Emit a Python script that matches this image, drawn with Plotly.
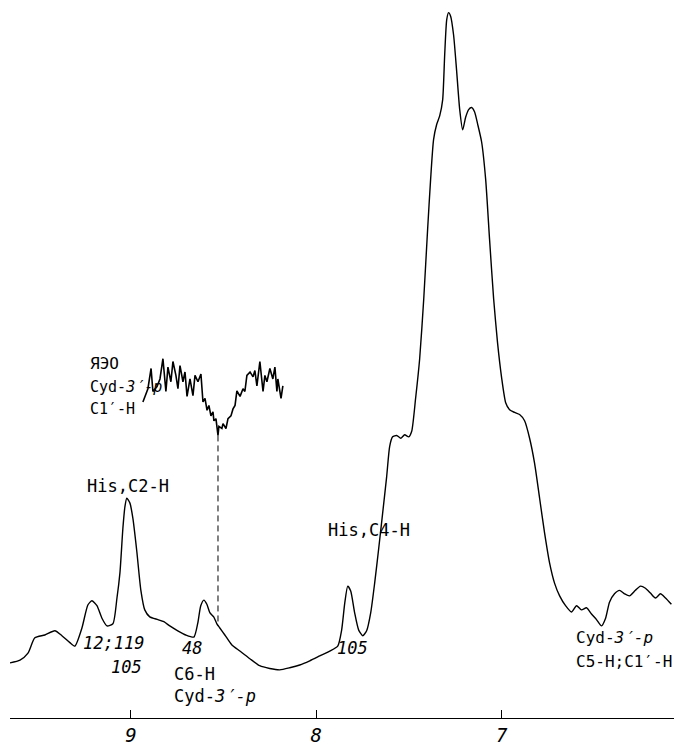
import plotly.graph_objects as go

# Main NMR spectrum (chemical shift, ppm ; intensity, arbitrary units)
ppm = [9.652, 9.598, 9.555, 9.518, 9.464, 9.410, 9.372, 9.329, 9.302, 9.264,
       9.232, 9.210, 9.183, 9.156, 9.129, 9.097, 9.075, 9.059, 9.043, 9.032,
       9.022, 9.005, 8.989, 8.968, 8.946, 8.925, 8.898, 8.854, 8.822, 8.790,
       8.747, 8.704, 8.660, 8.639, 8.623, 8.606, 8.590, 8.574, 8.553, 8.536,
       8.520, 8.493, 8.456, 8.412, 8.358, 8.305, 8.251, 8.197, 8.143, 8.089,
       8.035, 7.981, 7.927, 7.884, 7.863, 7.846, 7.830, 7.814, 7.793, 7.771,
       7.749, 7.728, 7.706, 7.685, 7.663, 7.642, 7.620, 7.604, 7.588, 7.566,
       7.544, 7.523, 7.501, 7.485, 7.464, 7.442, 7.420, 7.399, 7.383, 7.367,
       7.350, 7.334, 7.318, 7.307, 7.296, 7.286, 7.275, 7.259, 7.243, 7.226,
       7.210, 7.194, 7.178, 7.162, 7.146, 7.129, 7.108, 7.086, 7.065, 7.043,
       7.022, 7.000, 6.978, 6.957, 6.930, 6.903, 6.876, 6.849, 6.822, 6.795,
       6.768, 6.741, 6.714, 6.687, 6.655, 6.623, 6.596, 6.569, 6.542, 6.515,
       6.488, 6.461, 6.439, 6.418, 6.391, 6.364, 6.337, 6.310, 6.278, 6.251,
       6.224, 6.197, 6.170, 6.143, 6.116, 6.084]
intensity = [6.7, 7.1, 8.1, 10.3, 10.7, 11.3, 10.6, 9.6, 9.1, 11.7,
             15.0, 15.6, 14.9, 13.1, 12.0, 12.3, 16.0, 19.6, 26.0, 29.1,
             30.3, 29.6, 27.4, 22.7, 17.1, 14.3, 13.3, 12.9, 12.6, 12.0,
             11.3, 10.7, 10.4, 12.4, 14.9, 15.7, 15.1, 13.9, 13.3, 12.3,
             11.7, 10.7, 9.3, 8.4, 7.3, 6.3, 5.9, 5.7, 6.0, 6.4,
             7.0, 7.7, 8.4, 9.1, 11.4, 15.3, 17.7, 17.0, 13.9, 11.4,
             10.6, 11.3, 13.9, 18.1, 23.1, 28.1, 33.4, 37.7, 39.1, 39.3,
             38.9, 39.4, 39.1, 39.9, 44.6, 50.3, 58.9, 68.9, 76.0, 81.7,
             83.9, 85.1, 87.4, 93.9, 98.9, 99.9, 99.4, 96.7, 91.7, 86.0,
             83.1, 84.9, 86.0, 86.3, 85.7, 83.9, 81.4, 76.0, 67.4, 58.9,
             52.6, 47.6, 44.0, 43.0, 42.6, 42.3, 41.4, 38.9, 35.3, 30.3,
             25.3, 21.0, 18.1, 16.3, 14.9, 14.0, 14.9, 14.3, 14.6, 13.7,
             12.9, 12.0, 13.1, 15.4, 16.6, 17.1, 16.6, 16.3, 17.1, 17.7,
             17.4, 16.7, 16.0, 16.6, 16.0, 15.1]

# Inset: expanded noisy record (Cyd-3'-p C1'-H region)
inset_ppm = [8.935, 8.908, 8.891, 8.881, 8.859, 8.843, 8.827, 8.811, 8.800, 8.784,
             8.773, 8.757, 8.746, 8.735, 8.719, 8.708, 8.697, 8.681, 8.665, 8.654,
             8.638, 8.622, 8.611, 8.600, 8.589, 8.579, 8.568, 8.557, 8.552, 8.541,
             8.530, 8.525, 8.509, 8.503, 8.487, 8.476, 8.460, 8.449, 8.438, 8.428,
             8.411, 8.395, 8.385, 8.374, 8.357, 8.341, 8.331, 8.320, 8.304, 8.287,
             8.277, 8.266, 8.250, 8.234, 8.223, 8.212, 8.207, 8.190, 8.180]
inset_int = [44.1, 46.0, 48.9, 45.6, 46.3, 47.4, 50.3, 45.6, 49.1, 47.0,
             49.9, 47.9, 46.0, 49.3, 47.0, 48.4, 44.9, 47.4, 45.0, 47.9,
             47.0, 48.1, 44.1, 44.6, 42.9, 43.6, 42.1, 42.7, 41.4, 41.7,
             39.3, 40.6, 40.3, 41.0, 40.3, 41.7, 42.1, 43.1, 43.6, 45.7,
             44.9, 46.0, 45.6, 47.9, 48.4, 47.7, 48.6, 46.4, 49.9, 45.6,
             47.9, 47.0, 48.9, 47.4, 49.1, 45.6, 47.4, 44.6, 46.4]

# Dashed connector from inset minimum to the spectrum
link_ppm = [8.530, 8.530]
link_int = [39.3, 12.0]

tick_vals = [9, 8, 7]
tick_text = ["<i>9</i>", "<i>8</i>", "<i>7</i>"]

LABEL_FONT = dict(family="DejaVu Sans Mono", size=17, color="black")
RIGHT_FONT = dict(family="DejaVu Sans Mono", size=16, color="black")
SMALL_FONT = dict(family="DejaVu Sans Mono", size=15, color="black")

fig = go.Figure()
fig.add_trace(go.Scatter(x=ppm, y=intensity, mode="lines",
                         line=dict(color="black", width=1.4, shape="spline", smoothing=0.6),
                         hoverinfo="skip", showlegend=False))
fig.add_trace(go.Scatter(x=inset_ppm, y=inset_int, mode="lines",
                         line=dict(color="black", width=1.6),
                         hoverinfo="skip", showlegend=False))
fig.add_trace(go.Scatter(x=link_ppm, y=link_int, mode="lines",
                         line=dict(color="black", width=1, dash="6px,4px"),
                         hoverinfo="skip", showlegend=False))

annotations = [
    dict(x=9.231, y=49.6, text="ЯЭО", xanchor="left", font=dict(SMALL_FONT, size=16)),
    dict(x=9.231, y=46.3, text="Cyd-<i>3′-p</i>", xanchor="left", font=SMALL_FONT),
    dict(x=9.231, y=43.1, text="C1′-H", xanchor="left", font=SMALL_FONT),
    dict(x=9.016, y=32.0, text="His,C2-H", xanchor="center", font=LABEL_FONT),
    dict(x=9.091, y=9.6, text="<i>12;119</i>", xanchor="center", font=LABEL_FONT),
    dict(x=9.026, y=6.1, text="<i>105</i>", xanchor="center", font=LABEL_FONT),
    dict(x=8.670, y=8.9, text="<i>48</i>", xanchor="center", font=LABEL_FONT),
    dict(x=8.778, y=5.1, text="C6-H", xanchor="left", font=LABEL_FONT),
    dict(x=8.778, y=2.0, text="Cyd-<i>3′-p</i>", xanchor="left", font=LABEL_FONT),
    dict(x=7.807, y=8.9, text="<i>105</i>", xanchor="center", font=LABEL_FONT),
    dict(x=7.716, y=25.7, text="His,C4-H", xanchor="center", font=LABEL_FONT),
    dict(x=6.61, y=10.3, text="Cyd-<i>3′-p</i>", xanchor="left", font=RIGHT_FONT),
    dict(x=6.61, y=6.9, text="C5-H;C1′-H", xanchor="left", font=RIGHT_FONT),
    dict(x=6.21, y=-3.6, text="м.д.", xanchor="center", font=LABEL_FONT),
]
for a in annotations:
    a.update(xref="x", yref="y", showarrow=False, yanchor="middle")

fig.update_layout(
    width=674, height=746,
    margin=dict(l=10, r=0, t=5, b=26),
    paper_bgcolor="white", plot_bgcolor="white",
    annotations=annotations,
    xaxis=dict(range=[9.652, 6.07], showgrid=False, zeroline=False,
               showline=True, linecolor="black", linewidth=1.2,
               ticks="inside", ticklen=8, tickcolor="black", tickwidth=1,
               tickvals=tick_vals, ticktext=tick_text,
               tickfont=dict(family="DejaVu Sans Mono", size=19, color="black")),
    yaxis=dict(range=[-1.2, 101], visible=False, showgrid=False, zeroline=False),
)

fig.write_html("out.html",
               config={"displayModeBar": False},
               post_script="document.body.style.margin='0';document.body.style.overflow='hidden';")
